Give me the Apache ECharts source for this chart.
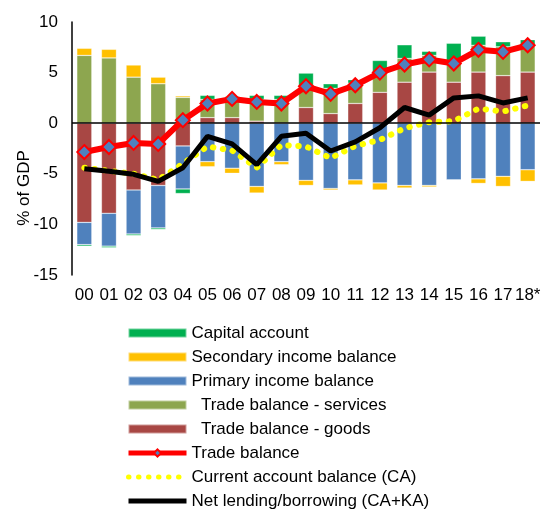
<!DOCTYPE html>
<html>
<head>
<meta charset="utf-8">
<script src="https://cdn.jsdelivr.net/npm/echarts@6/dist/echarts.min.js"></script>
<style>
  html, body { margin: 0; padding: 0; background: #fff; }
  #chart { width: 546px; height: 511px; }
</style>
</head>
<body>
<div id="chart"></div>
<script>
// categories (years)
const years = ['00', '01', '02', '03', '04', '05', '06', '07', '08', '09', '10', '11', '12', '13', '14', '15', '16', '17', '18*']

// % of GDP, stacked bars
const goods = [-9.8, -8.9, -6.6, -6.15, -2.25, 0.55, 0.55, 0.2, 0, 1.55, 0.95, 1.95, 3.05, 4.05, 5.05, 4.05, 5.05, 4.7, 5.05]
const services = [6.7, 6.45, 4.55, 3.9, 2.55, 1.8, 2.0, 2.15, 2.35, 2.1, 2.5, 2.0, 2.0, 2.35, 1.65, 2.15, 2.65, 2.85, 2.55]
const primary = [-2.2, -3.25, -4.35, -4.2, -4.25, -3.8, -4.45, -6.25, -3.8, -5.65, -6.45, -5.6, -5.9, -6.15, -6.15, -5.6, -5.5, -5.25, -4.6]
const secondary = [0.7, 0.85, 1.2, 0.65, 0.15, -0.5, -0.5, -0.65, -0.3, -0.5, -0.15, -0.5, -0.7, -0.25, -0.15, -0.05, -0.45, -1.0, -1.15]
const capital = [-0.15, -0.15, -0.15, -0.15, -0.45, 0.4, 0.1, 0.4, 0.4, 1.3, 0.45, 0.35, 1.15, 1.35, 0.4, 1.7, 0.9, 0.5, 0.65]

// lines
const tradeBalance = [-2.85, -2.35, -1.95, -2.05, 0.3, 1.95, 2.4, 2.1, 1.95, 3.65, 2.9, 3.75, 5.0, 5.8, 6.3, 5.9, 7.25, 7.05, 7.7]
const currentAccount = [-4.4, -4.7, -5.0, -5.6, -4.0, -2.3, -2.7, -4.4, -2.15, -2.3, -3.45, -2.25, -1.65, -0.5, 0.1, 0.2, 1.45, 1.15, 1.75]
const netLending = [-4.5, -4.75, -5.05, -5.75, -4.4, -1.3, -2.05, -4.1, -1.3, -1.0, -2.75, -1.85, -0.45, 1.55, 0.8, 2.5, 2.7, 2.0, 2.5]

// y axis ticks
const yMin = -15, yMax = 10, yStep = 5

const FONT = 'Liberation Sans, Arial, sans-serif'

const barBase = {
  type: 'bar',
  stack: 'bal',
  barWidth: 15,
  itemStyle: { borderColor: 'rgba(255,255,255,0.45)', borderWidth: 0.6 }
}

const myChart = echarts.init(document.getElementById('chart'))

const option = {
  animation: false,
  textStyle: { fontFamily: FONT },
  grid: { left: 72, right: 6, top: 22, bottom: 236 },
  legend: {
    orient: 'vertical',
    left: 126,
    top: 324,
    height: 300,
    padding: 0,
    itemGap: 6,
    itemWidth: 58,
    itemHeight: 9,
    textStyle: { fontSize: 17, color: '#000', fontFamily: FONT, lineHeight: 18 },
    data: [
      { name: 'Capital account', icon: 'rect' },
      { name: 'Secondary income balance', icon: 'rect' },
      { name: 'Primary income balance', icon: 'rect' },
      { name: '  Trade balance - services', icon: 'rect' },
      { name: '  Trade balance - goods', icon: 'rect' },
      { name: 'Trade balance', lineStyle: { width: 5 } },
      { name: 'Current account balance (CA)', lineStyle: { width: 5 } },
      { name: 'Net lending/borrowing (CA+KA)', lineStyle: { width: 5 } }
    ]
  },
  graphic: [{
    type: 'text',
    x: 24,
    y: 188,
    rotation: Math.PI / 2,
    style: {
      text: '% of GDP',
      fontSize: 17,
      fontFamily: FONT,
      fill: '#000',
      align: 'center',
      verticalAlign: 'middle'
    }
  }],
  xAxis: {
    type: 'category',
    data: years,
    axisLine: { show: false, onZero: false },
    axisTick: { show: false },
    axisLabel: { interval: 0, fontSize: 17, color: '#000', margin: 12 }
  },
  yAxis: {
    type: 'value',
    min: yMin,
    max: yMax,
    interval: yStep,
    axisLine: { show: true, lineStyle: { color: '#000', width: 1.5 } },
    axisTick: { show: false },
    splitLine: { show: false },
    axisLabel: { fontSize: 17, color: '#000', margin: 14 }
  },
  series: [
    Object.assign({}, barBase, {
      name: '  Trade balance - goods',
      data: goods,
      itemStyle: Object.assign({}, barBase.itemStyle, { color: '#A84744' }),
      markLine: {
        silent: true,
        symbol: 'none',
        label: { show: false },
        lineStyle: { color: '#000', width: 1.5, type: 'solid' },
        data: [{ yAxis: 0 }]
      }
    }),
    Object.assign({}, barBase, {
      name: '  Trade balance - services',
      data: services,
      itemStyle: Object.assign({}, barBase.itemStyle, { color: '#8DA64F' })
    }),
    Object.assign({}, barBase, {
      name: 'Primary income balance',
      data: primary,
      itemStyle: Object.assign({}, barBase.itemStyle, { color: '#4F81BD' })
    }),
    Object.assign({}, barBase, {
      name: 'Secondary income balance',
      data: secondary,
      itemStyle: Object.assign({}, barBase.itemStyle, { color: '#FFC000' })
    }),
    Object.assign({}, barBase, {
      name: 'Capital account',
      data: capital,
      itemStyle: Object.assign({}, barBase.itemStyle, { color: '#00B050' })
    }),
    {
      name: 'Current account balance (CA)',
      type: 'line',
      data: currentAccount,
      symbol: 'none',
      z: 3,
      lineStyle: { color: '#FFFF00', width: 6, type: [0.5, 9.5], cap: 'round' },
      itemStyle: { color: 'rgba(0,0,0,0)' }
    },
    {
      name: 'Net lending/borrowing (CA+KA)',
      type: 'line',
      data: netLending,
      symbol: 'none',
      z: 4,
      lineStyle: { color: '#000', width: 5 },
      itemStyle: { color: 'rgba(0,0,0,0)' }
    },
    {
      name: 'Trade balance',
      type: 'line',
      data: tradeBalance,
      symbol: 'diamond',
      symbolSize: 14,
      z: 5,
      lineStyle: { color: '#FF0000', width: 6 },
      itemStyle: { color: '#4F81BD', borderColor: '#FF0000', borderWidth: 2 }
    }
  ]
}

myChart.setOption(option)
</script>
</body>
</html>
